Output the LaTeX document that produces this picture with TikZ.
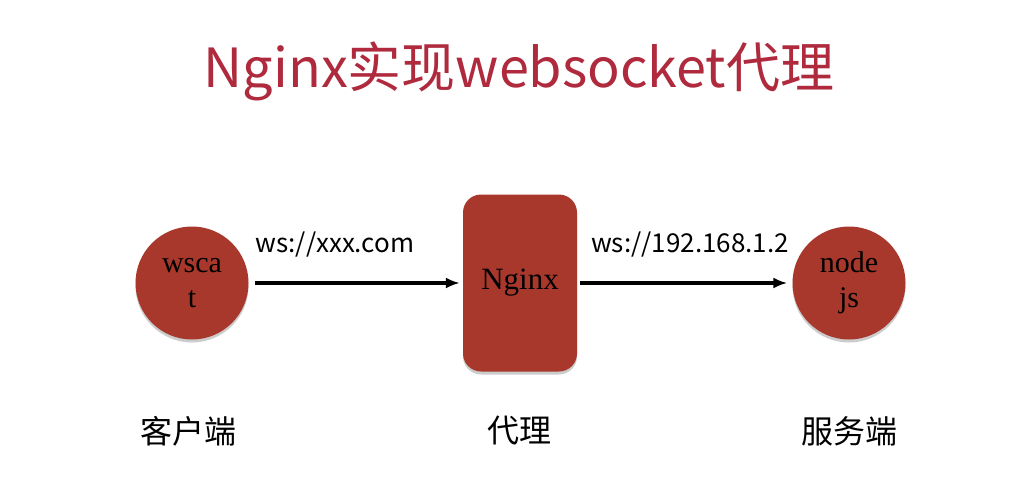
\documentclass[tikz,border=0pt]{standalone}
\usepackage{fontspec}
\setmainfont{Liberation Serif}
\newfontfamily\cjk{Noto Sans CJK SC}
\usetikzlibrary{shadows,arrows.meta}
\definecolor{boxred}{RGB}{168,56,44}
\definecolor{titlered}{RGB}{176,42,62}
\tikzset{
  x=1pt,y=-1pt,
  redcircle/.style={circle,fill=boxred,minimum size=113pt,inner sep=0pt,align=center,
    font=\fontsize{30}{35}\selectfont,text=black,
    drop shadow={shadow xshift=0pt,shadow yshift=-3pt,opacity=0.2,fill=black}},
  redbox/.style={rectangle,rounded corners=18pt,fill=boxred,minimum width=114pt,minimum height=177pt,
    inner sep=0pt,font=\fontsize{31}{35}\selectfont,text=black,
    drop shadow={shadow xshift=0pt,shadow yshift=-3pt,opacity=0.2,fill=black}},
  conn/.style={-{Latex[length=14pt,width=11pt]},line width=3.2pt,black},
  lbl/.style={font=\cjk\fontsize{26}{28}\selectfont,text=black},
  bottomlbl/.style={font=\cjk\fontsize{32}{34}\selectfont,text=black}
}
\begin{document}
\begin{tikzpicture}
\useasboundingbox[fill=white] (0,0) rectangle (1012,498);
\node[font=\cjk\fontsize{54}{58}\selectfont,text=titlered] (title) at (519,71) {Nginx实现websocket代理};
\node[redcircle] (client) at (192,283) {wsca\\t};
\node[redbox] (proxy) at (520,283) {Nginx};
\node[redcircle] (server) at (849,283) {node\\js};
\draw[conn] ([xshift=6pt]client.east) -- ([xshift=-3pt]proxy.west);
\draw[conn] ([xshift=3pt]proxy.east) -- ([xshift=-5pt]server.west);
\node[lbl] (l1) at (335,245) {ws://xxx.com};
\node[lbl] (l2) at (690,245) {ws://192.168.1.2};
\node[bottomlbl] (k1) at (188,431) {客户端};
\node[bottomlbl] (k2) at (519,431) {代理};
\node[bottomlbl] (k3) at (849,431) {服务端};
\end{tikzpicture}
\end{document}
